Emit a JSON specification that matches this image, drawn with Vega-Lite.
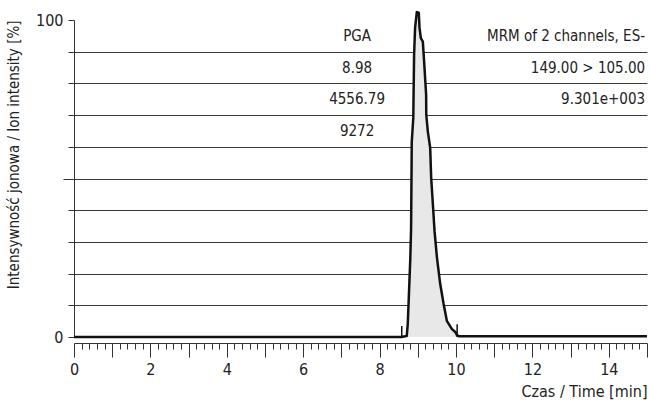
{
  "$schema": "https://vega.github.io/schema/vega-lite/v6.json",
  "width": 573,
  "height": 317,
  "autosize": {"type": "none"},
  "padding": {"left": 74, "top": 20, "right": 4, "bottom": 63},
  "config": {
    "view": {"stroke": null},
    "font": "DejaVu Sans Condensed, sans-serif",
    "axis": {"labelFont": "DejaVu Sans Condensed, sans-serif", "titleFont": "DejaVu Sans Condensed, sans-serif"}
  },
  "datasets": {
    "trace": [
      {"t": 0, "i": 0}, {"t": 8.57, "i": 0}, {"t": 8.71, "i": 0.3}, {"t": 8.737, "i": 4.1},
      {"t": 8.771, "i": 14.5}, {"t": 8.803, "i": 24.5}, {"t": 8.824, "i": 34.0},
      {"t": 8.842, "i": 61.6}, {"t": 8.882, "i": 69.2}, {"t": 8.903, "i": 89.0},
      {"t": 8.929, "i": 97.5}, {"t": 8.974, "i": 102.5}, {"t": 9.026, "i": 102.3},
      {"t": 9.045, "i": 97.5}, {"t": 9.079, "i": 94.3}, {"t": 9.132, "i": 93.2},
      {"t": 9.166, "i": 86.8}, {"t": 9.218, "i": 76.4}, {"t": 9.222, "i": 70.1},
      {"t": 9.263, "i": 64.8}, {"t": 9.324, "i": 59.7}, {"t": 9.35, "i": 50.3},
      {"t": 9.395, "i": 41.8}, {"t": 9.439, "i": 33.3}, {"t": 9.5, "i": 25.2},
      {"t": 9.587, "i": 16.7}, {"t": 9.676, "i": 10.4}, {"t": 9.763, "i": 5.0},
      {"t": 9.895, "i": 2.5}, {"t": 9.982, "i": 1.6}, {"t": 10.026, "i": 0.6},
      {"t": 10.08, "i": 0.2}, {"t": 15, "i": 0.2}
    ],
    "markers": [
      {"t": 8.58, "lo": 0, "hi": 3.5},
      {"t": 10.03, "lo": 0, "hi": 4.0}
    ],
    "centerLabels": [
      {"t": 7.41, "i": 95, "text": "PGA"},
      {"t": 7.41, "i": 85, "text": "8.98"},
      {"t": 7.41, "i": 75, "text": "4556.79"},
      {"t": 7.41, "i": 65, "text": "9272"}
    ],
    "rightLabels": [
      {"t": 14.95, "i": 95, "text": "MRM of 2 channels, ES-"},
      {"t": 14.95, "i": 85, "text": "149.00 > 105.00"},
      {"t": 14.95, "i": 75, "text": "9.301e+003"}
    ]
  },
  "layer": [
    {
      "data": {"name": "trace"},
      "transform": [{"filter": "datum.t >= 8.5 && datum.t <= 10.1"}],
      "mark": {"type": "area", "color": "#e8e8e8", "opacity": 1},
      "encoding": {
        "x": {"field": "t", "type": "quantitative", "scale": {"domain": [0, 15], "nice": false},
          "axis": {
            "title": "Czas / Time [min]",
            "titleAnchor": "end",
            "titleFontSize": 16,
            "titleFontWeight": "normal",
            "titleColor": "#222",
            "titlePadding": 6,
            "offset": 6,
            "tickCount": 200,
            "values": [0,0.2,0.4,0.6,0.8,1,1.2,1.4,1.6,1.8,2,2.2,2.4,2.6,2.8,3,3.2,3.4,3.6,3.8,4,4.2,4.4,4.6,4.8,5,5.2,5.4,5.6,5.8,6,6.2,6.4,6.6,6.8,7,7.2,7.4,7.6,7.8,8,8.2,8.4,8.6,8.8,9,9.2,9.4,9.6,9.8,10,10.2,10.4,10.6,10.8,11,11.2,11.4,11.6,11.8,12,12.2,12.4,12.6,12.8,13,13.2,13.4,13.6,13.8,14,14.2,14.4,14.6,14.8,15],
            "tickSize": {"condition": {"test": "abs(datum.value - round(datum.value)) < 0.001", "value": 14}, "value": 6},
            "labelExpr": "abs(datum.value/2 - round(datum.value/2)) < 0.001 ? format(datum.value, 'd') : ''",
            "labelFontSize": 16,
            "labelColor": "#222",
            "labelPadding": 4,
            "labelFlush": false,
            "labelOverlap": false,
            "tickColor": "#333",
            "domainColor": "#333",
            "grid": false
          }
        },
        "y": {"field": "i", "type": "quantitative", "scale": {"domain": [0, 100], "nice": false},
          "axis": {
            "title": "Intensywność jonowa / Ion intensity [%]",
            "titleAnchor": "end",
            "titleFontSize": 15,
            "titleFontWeight": "normal",
            "titleColor": "#222",
            "titlePadding": 14,
            "tickCount": 50,
            "values": [0,10,20,30,40,50,60,70,80,90,100],
            "tickSize": {"condition": {"test": "datum.value == 50", "value": 11}, "value": 6},
            "labelExpr": "datum.value == 0 || datum.value == 100 ? datum.label : ''",
            "labelFontSize": 16,
            "labelColor": "#222",
            "labelPadding": 5,
            "labelFlush": false,
            "labelOverlap": false,
            "tickColor": "#333",
            "domainColor": "#333",
            "grid": true,
            "gridColor": "#3a3a3a",
            "gridOpacity": {"condition": {"test": "datum.value == 0 || datum.value == 100", "value": 0}, "value": 1}
          }
        }
      }
    },
    {
      "data": {"name": "trace"},
      "mark": {"type": "line", "color": "#111", "strokeWidth": 2.5, "interpolate": "linear", "strokeJoin": "round"},
      "encoding": {
        "x": {"field": "t", "type": "quantitative"},
        "y": {"field": "i", "type": "quantitative"}
      }
    },
    {
      "data": {"name": "markers"},
      "mark": {"type": "rule", "color": "#111", "strokeWidth": 1.5},
      "encoding": {
        "x": {"field": "t", "type": "quantitative"},
        "y": {"field": "lo", "type": "quantitative"},
        "y2": {"field": "hi"}
      }
    },
    {
      "data": {"name": "centerLabels"},
      "mark": {"type": "text", "fontSize": 15, "color": "#222", "baseline": "middle", "align": "center"},
      "encoding": {
        "x": {"field": "t", "type": "quantitative"},
        "y": {"field": "i", "type": "quantitative"},
        "text": {"field": "text"}
      }
    },
    {
      "data": {"name": "rightLabels"},
      "mark": {"type": "text", "fontSize": 15, "color": "#222", "baseline": "middle", "align": "right"},
      "encoding": {
        "x": {"field": "t", "type": "quantitative"},
        "y": {"field": "i", "type": "quantitative"},
        "text": {"field": "text"}
      }
    }
  ]
}
